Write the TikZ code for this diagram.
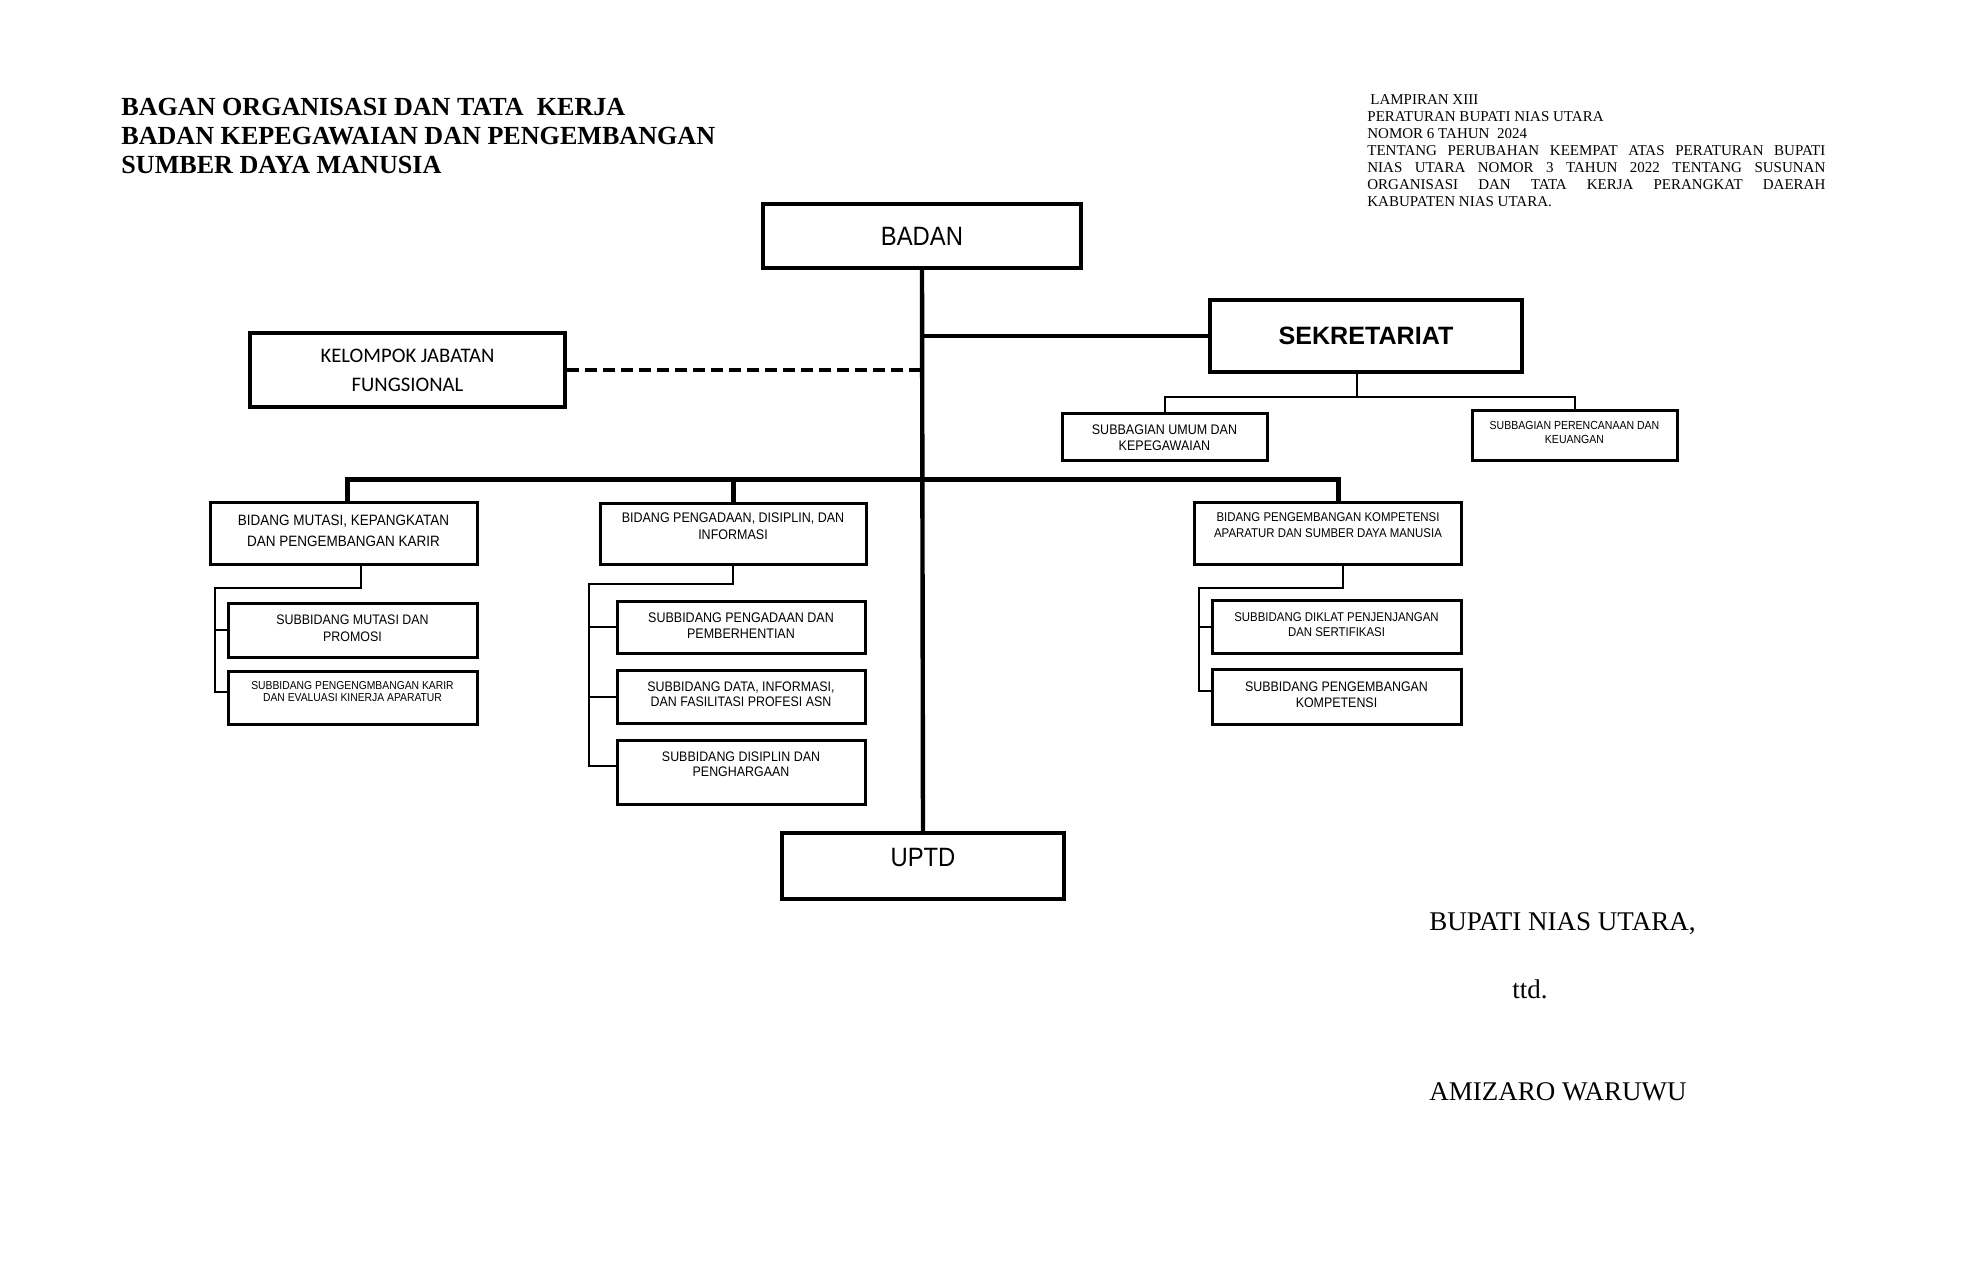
\documentclass[tikz,border=0pt]{standalone}
\usepackage{fontspec}
\setmainfont{Liberation Serif}
\newfontfamily\boxfont[FakeStretch=0.9]{Liberation Sans}
\newfontfamily\headfont{Liberation Sans}
\newfontfamily\kelfont{Carlito}
\usetikzlibrary{positioning}

\tikzset{
  bigbox/.style={draw, line width=2pt, inner sep=0pt},
  unitbox/.style={draw, line width=1.5pt, inner sep=0pt},
  boxtxt/.style 2 args={align=center, inner sep=0pt, font={\boxfont\fontsize{#1}{#2}\selectfont}},
  trunkline/.style={line width=2.2pt},
  busline/.style={line width=2.5pt},
  subline/.style={line width=1pt},
  dashline/.style={line width=2pt, dash pattern=on 6pt off 3pt}
}
\newcommand{\fullline}[1]{\makebox[229pt][s]{#1}}

\begin{document}
\begin{tikzpicture}[x=0.5pt, y=-0.5pt]
    \fill[white] (0,0) rectangle (1967,1270);
    \useasboundingbox (0,0) rectangle (1967,1270);

    % Title
    \node[anchor=north west, align=left, inner sep=0pt, font={\bfseries\fontsize{13.05pt}{14.5pt}\selectfont}] (title) at (121,98)
        {BAGAN ORGANISASI DAN TATA\ \ KERJA\\BADAN KEPEGAWAIAN DAN PENGEMBANGAN\\SUMBER DAYA MANUSIA};

    % Lampiran
    \node[anchor=north west, align=left, inner sep=0pt, font={\fontsize{7.5pt}{8.5pt}\selectfont}] (lampiran) at (1367,94)
        {\hspace*{1.5pt}LAMPIRAN XIII\\PERATURAN BUPATI NIAS UTARA\\NOMOR 6 TAHUN\ \ 2024\\
         \fullline{TENTANG PERUBAHAN KEEMPAT ATAS PERATURAN BUPATI}\\
         \fullline{NIAS UTARA NOMOR 3 TAHUN 2022 TENTANG SUSUNAN}\\
         \fullline{ORGANISASI DAN TATA KERJA PERANGKAT DAERAH}\\
         KABUPATEN NIAS UTARA.};

    % Top level
    \node[bigbox, minimum width=159pt, minimum height=32pt, font={\boxfont\fontsize{13.25pt}{15pt}\selectfont}] (badan) at (922,236) {BADAN};
    \node[bigbox, minimum width=156pt, minimum height=36pt, font={\headfont\bfseries\fontsize{12.55pt}{15pt}\selectfont}] (sek) at (1366,336) {SEKRETARIAT};
    \node[bigbox, minimum width=157.5pt, minimum height=37pt, align=center, font={\kelfont\fontsize{10.35pt}{14.5pt}\selectfont}] (kel) at (407.5,370) {KELOMPOK JABATAN\\FUNGSIONAL};
    \node[bigbox, minimum width=141pt, minimum height=33pt, text height=9.5pt, text depth=9pt, font={\boxfont\fontsize{13.25pt}{15pt}\selectfont}] (uptd) at (923,866) {UPTD};

    % Subbagian
    \node[unitbox, minimum width=102.5pt, minimum height=23.5pt] (subumum) at (1164.5,436.5) {};
    \node[boxtxt={6.95pt}{8pt}] (subumum-txt) at (1164.5,438) {SUBBAGIAN UMUM DAN\\KEPEGAWAIAN};
    \node[unitbox, minimum width=102.5pt, minimum height=25pt] (subrenc) at (1574.5,435) {};
    \node[boxtxt={5.85pt}{7pt}] (subrenc-txt) at (1574.5,432) {SUBBAGIAN PERENCANAAN DAN\\KEUANGAN};

    % Bidang
    \node[unitbox, minimum width=133.5pt, minimum height=31pt] (bid1) at (343.5,533) {};
    \node[boxtxt={7.5pt}{10.5pt}] (bid1-txt) at (343.5,530.5) {BIDANG MUTASI, KEPANGKATAN\\DAN PENGEMBANGAN KARIR};
    \node[unitbox, minimum width=133pt, minimum height=30.5pt] (bid2) at (733,533.5) {};
    \node[boxtxt={6.95pt}{8.5pt}] (bid2-txt) at (733,526.5) {BIDANG PENGADAAN, DISIPLIN, DAN\\INFORMASI};
    \node[unitbox, minimum width=133.5pt, minimum height=31pt] (bid3) at (1327.5,533) {};
    \node[boxtxt={6.35pt}{8pt}] (bid3-txt) at (1328,525) {BIDANG PENGEMBANGAN KOMPETENSI\\APARATUR DAN SUMBER DAYA MANUSIA};

    % Subbidang
    \node[unitbox, minimum width=124.5pt, minimum height=27pt] (sub11) at (352.5,630) {};
    \node[boxtxt={6.9pt}{8.5pt}] (sub11-txt) at (352.5,628.5) {SUBBIDANG MUTASI DAN\\PROMOSI};
    \node[unitbox, minimum width=124.5pt, minimum height=26.5pt] (sub12) at (352.5,697.5) {};
    \node[boxtxt={5.75pt}{6pt}] (sub12-txt) at (352.5,692) {SUBBIDANG PENGENGMBANGAN KARIR\\DAN EVALUASI KINERJA APARATUR};

    \node[unitbox, minimum width=124pt, minimum height=26pt] (sub21) at (741,627) {};
    \node[boxtxt={6.95pt}{8pt}] (sub21-txt) at (741,626) {SUBBIDANG PENGADAAN DAN\\PEMBERHENTIAN};
    \node[unitbox, minimum width=124pt, minimum height=26.5pt] (sub22) at (741,696.5) {};
    \node[boxtxt={6.9pt}{7.5pt}] (sub22-txt) at (741,694.5) {SUBBIDANG DATA, INFORMASI,\\DAN FASILITASI PROFESI ASN};
    \node[unitbox, minimum width=124pt, minimum height=32pt] (sub23) at (741,772) {};
    \node[boxtxt={6.9pt}{7.5pt}] (sub23-txt) at (741,764.5) {SUBBIDANG DISIPLIN DAN\\PENGHARGAAN};

    \node[unitbox, minimum width=124.5pt, minimum height=26.5pt] (sub31) at (1336.5,626.5) {};
    \node[boxtxt={6.35pt}{7.5pt}] (sub31-txt) at (1336.5,624.5) {SUBBIDANG DIKLAT PENJENJANGAN\\DAN SERTIFIKASI};
    \node[unitbox, minimum width=124.5pt, minimum height=27.5pt] (sub32) at (1336.5,696.5) {};
    \node[boxtxt={6.9pt}{8pt}] (sub32-txt) at (1336.5,695) {SUBBIDANG PENGEMBANGAN\\KOMPETENSI};

    % Trunk and links
    \draw[trunkline] (badan.south) -- (uptd.north);
    \draw[trunkline] (badan.south |- sek.west) -- (sek.west);
    \draw[dashline] (kel.east) -- (badan.south |- kel.east);

    % Bus to bidang
    \coordinate (busR) at (1338,479);
    \draw[busline] ([xshift=1.75pt]bid1.north) |- (busR) -- (busR |- bid3.north);
    \draw[busline] (bid2.north) -- (bid2.north |- busR);

    % Sekretariat branches
    \coordinate (sekJ) at (1357,397);
    \draw[subline] (sekJ |- sek.south) -- (sekJ);
    \draw[subline] (subumum.north) |- (sekJ) -| (subrenc.north);

    % Bidang branches
    \coordinate (bid1J) at (215,588);
    \draw[subline] ([xshift=8.75pt]bid1.south) |- (bid1J) |- ([yshift=2.75pt]sub12.west);
    \draw[subline] (bid1J |- sub11.west) -- (sub11.west);

    \coordinate (bid2J) at (589,584);
    \draw[subline] (bid2.south) |- (bid2J) |- ([yshift=3pt]sub23.west);
    \draw[subline] (bid2J |- sub21.west) -- (sub21.west);
    \draw[subline] (bid2J |- sub22.west) -- (sub22.west);

    \coordinate (bid3J) at (1199,588);
    \draw[subline] ([xshift=7.75pt]bid3.south) |- (bid3J) |- ([yshift=2.75pt]sub32.west);
    \draw[subline] (bid3J |- sub31.west) -- (sub31.west);

    % Signature
    \node[anchor=base west, inner sep=0pt, font={\fontsize{13.5pt}{15pt}\selectfont}] (bupati) at (1429,930) {BUPATI NIAS UTARA,};
    \node[anchor=base west, inner sep=0pt, font={\fontsize{13.5pt}{15pt}\selectfont}] (ttd) at (1512,998) {ttd.};
    \node[anchor=base west, inner sep=0pt, font={\fontsize{13.5pt}{15pt}\selectfont}] (nama) at (1429,1100) {AMIZARO WARUWU};
\end{tikzpicture}
\end{document}
